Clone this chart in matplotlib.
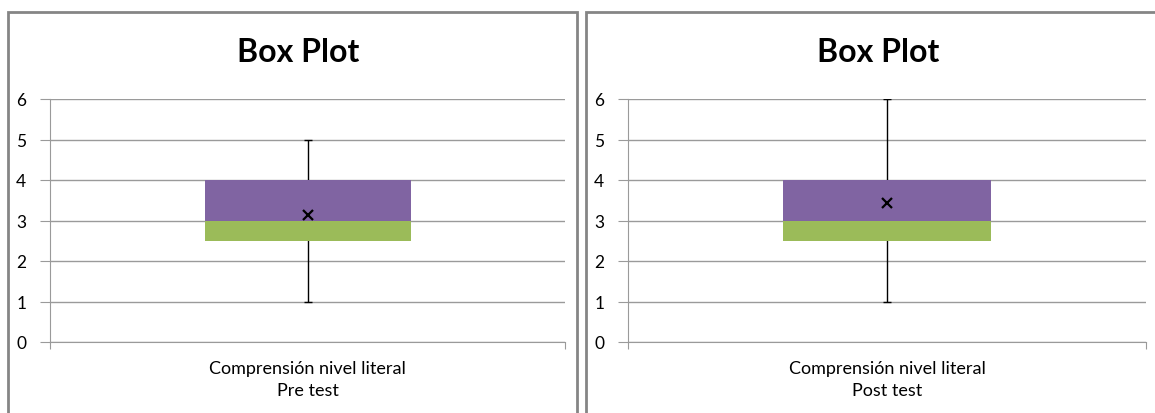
import matplotlib.pyplot as plt
from matplotlib.patches import Rectangle

# five-number summaries plus mean for each test
categories = ["Comprensión nivel literal\nPre test", "Comprensión nivel literal\nPost test"]
minimum = [1, 1]
q1 = [2.5, 2.5]
median = [3, 3]
q3 = [4, 4]
maximum = [5, 6]
mean = [3.13, 3.43]

W, H = 1155, 414
GREEN = "#9BBB59"
PURPLE = "#8064A2"
GRID = "#9a9a9a"

plt.rcParams["font.family"] = ["Lato", "DejaVu Sans"]

fig = plt.figure(figsize=(W / 100, H / 100), dpi=100)

# outer frames around each chart
for x0, x1 in [(8, 577), (586, 1160)]:
    fig.add_artist(Rectangle((x0 / W, -0.05), (x1 - x0) / W, (H - 13) / H + 0.05,
                             transform=fig.transFigure, fill=False,
                             edgecolor="#858585", linewidth=2))

panels = [(50, 565, 298), (628, 1146, 878)]

for i, (left, right, tcenter) in enumerate(panels):
    ax = fig.add_axes([left / W, (H - 343) / H, (right - left) / W, (343 - 100) / H])
    ax.set_xlim(0, 1)
    ax.set_ylim(0, 6)
    ax.set_yticks(range(7))
    ax.yaxis.grid(True, color=GRID, linewidth=1)
    ax.set_axisbelow(True)
    for s in ["top", "right"]:
        ax.spines[s].set_visible(False)
    ax.spines["left"].set_color(GRID)
    ax.spines["bottom"].set_color(GRID)
    ax.tick_params(axis="y", length=7, color=GRID, labelsize=12.5, pad=10)
    ax.set_xticks([0, 1])
    ax.set_xticklabels(["", ""])
    ax.tick_params(axis="x", length=5, color=GRID, direction="out")

    # whiskers from min to max with short caps
    ax.errorbar([0.5], [median[i]],
                yerr=[[median[i] - minimum[i]], [maximum[i] - median[i]]],
                fmt="none", ecolor="black", elinewidth=1, capsize=3, capthick=1, zorder=2)
    # lower and upper box halves
    ax.bar([0.5], [median[i] - q1[i]], bottom=[q1[i]], width=0.4, color=GREEN, zorder=3)
    ax.bar([0.5], [q3[i] - median[i]], bottom=[median[i]], width=0.4, color=PURPLE, zorder=3)
    ax.plot([0.5], [mean[i]], marker="x", color="black", markersize=7,
            markeredgewidth=1.6, linestyle="none", zorder=4)

    ax.text(0.5, -0.075, categories[i], transform=ax.transAxes, ha="center", va="top",
            fontsize=13, linespacing=1.45)
    fig.text(tcenter / W, (H - 52) / H, "Box Plot", ha="center", va="center",
             fontsize=23, fontweight="bold")

fig.savefig("out.png", dpi=100)
